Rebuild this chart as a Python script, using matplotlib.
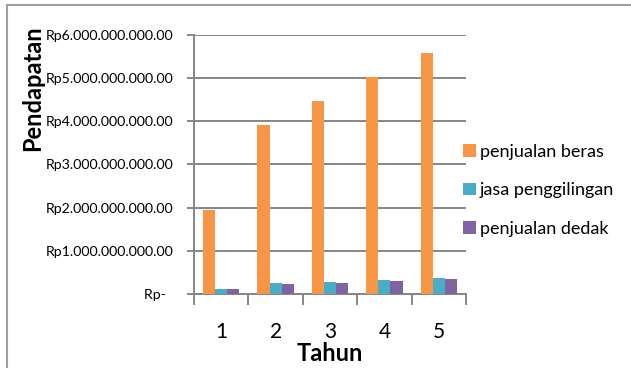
import matplotlib
matplotlib.use("Agg")
import matplotlib.pyplot as plt
from matplotlib.lines import Line2D
import numpy as np

plt.rcParams["font.family"] = ["Lato", "DejaVu Sans"]

# Pendapatan per tahun (Rupiah)
tahun = ["1", "2", "3", "4", "5"]
penjualan_beras = [1.94e12, 3.91e12, 4.47e12, 5.03e12, 5.59e12]
jasa_penggilingan = [0.11e12, 0.25e12, 0.28e12, 0.32e12, 0.37e12]
penjualan_dedak = [0.105e12, 0.23e12, 0.26e12, 0.31e12, 0.35e12]

series = [
    ("penjualan beras", penjualan_beras, "#F79646"),
    ("jasa penggilingan", jasa_penggilingan, "#4BACC6"),
    ("penjualan dedak", penjualan_dedak, "#8064A2"),
]

y_ticks = [0, 1e12, 2e12, 3e12, 4e12, 5e12, 6e12]
y_labels = ["Rp-  ", "Rp1.000.000.000.00", "Rp2.000.000.000.00",
            "Rp3.000.000.000.00", "Rp4.000.000.000.00",
            "Rp5.000.000.000.00", "Rp6.000.000.000.00"]

fig = plt.figure(figsize=(6.31, 3.68), dpi=100)
ax = fig.add_axes([0.3074, 0.2011, 0.4311, 0.7038])

x = np.arange(len(tahun))
w = 0.222
for i, (name, vals, col) in enumerate(series):
    ax.bar(x + (i - 1) * w, vals, width=w, color=col, label=name, zorder=3)

grid = "#868686"
ax.set_ylim(0, 6e12)
ax.set_xlim(-0.5, len(tahun) - 0.5)
ax.set_yticks(y_ticks)
ax.set_yticklabels(y_labels, fontsize=10.2, color="#000000")
ax.yaxis.grid(True, color=grid, linewidth=1.4, zorder=0)
ax.tick_params(axis="y", length=5, width=1.4, color=grid, pad=10)

# category labels centred, ticks at the category boundaries
ax.set_xticks(x)
ax.set_xticklabels(tahun, fontsize=15)
ax.tick_params(axis="x", length=0, pad=20)
ax.set_xticks(np.arange(len(tahun) + 1) - 0.5, minor=True)
ax.tick_params(axis="x", which="minor", length=8, width=1.4, color=grid)

for side in ["top", "right"]:
    ax.spines[side].set_visible(False)
for side in ["left", "bottom"]:
    ax.spines[side].set_color(grid)
    ax.spines[side].set_linewidth(1.4)

fig.text(0.523, 0.039, "Tahun", fontsize=17, fontweight="bold",
         ha="center", va="center")
fig.text(0.051, 0.761, "Pendapatan", fontsize=17, fontweight="bold",
         rotation=90, ha="center", va="center")

ax.legend(loc="center left", bbox_to_anchor=(0.962, 0.4), frameon=False,
          fontsize=13, handlelength=0.7, handleheight=0.7,
          handletextpad=0.25, labelspacing=1.25, borderaxespad=0)

# chart area border
fig.add_artist(Line2D([7 / 631, 7 / 631], [0, 1 - 5 / 368], color="#A0A0A0",
                      linewidth=1.5, transform=fig.transFigure))
fig.add_artist(Line2D([7 / 631, 1], [1 - 5 / 368, 1 - 5 / 368], color="#A0A0A0",
                      linewidth=1.5, transform=fig.transFigure))

fig.savefig("out.png", dpi=100)
